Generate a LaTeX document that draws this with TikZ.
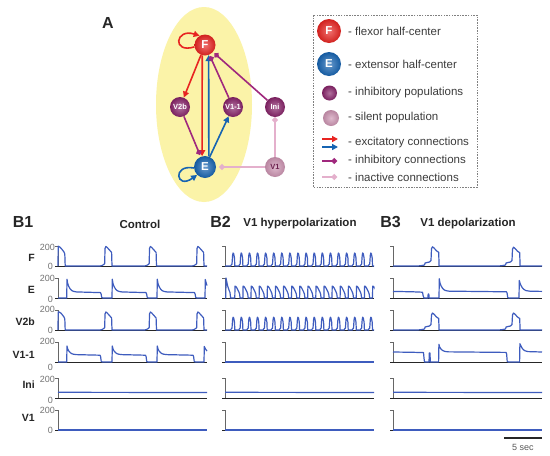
\documentclass[tikz,border=0pt]{standalone}
\usepackage{fontspec}
\setmainfont{Liberation Sans}
\usetikzlibrary{arrows.meta}
\definecolor{cred}{RGB}{232,36,33}
\definecolor{cblue}{RGB}{22,100,178}
\definecolor{cpurp}{RGB}{135,35,105}
\definecolor{csil}{RGB}{205,148,178}
\definecolor{linh}{RGB}{160,40,125}
\definecolor{linact}{RGB}{228,176,204}
\definecolor{cyel}{RGB}{251,243,168}
\definecolor{ctrace}{RGB}{62,92,190}
\definecolor{ctxt}{RGB}{60,60,60}
\definecolor{cv1t}{RGB}{110,35,80}
% burst shapes (local plot coordinates: x in pt, y value 0..200)
\newcommand\burstF[2]{-- ({#1-5},0) -- ({#1-3},5) -- ({#1-1.2},15) -- ({#1-0.3},25) -- ({#1},{#2-20}) -- ({#1+0.9},#2) -- ({#1+2.2},{#2-10}) -- ({#1+4.5},{#2-35}) -- ({#1+6.6},{#2-60}) -- ({#1+7},0)}
\newcommand\burstE[4]{-- ({#1},0) -- ({#1+0.3},#2) -- ({#1+1},{#3+0.67*(#2-#3)}) -- ({#1+2},{#3+0.45*(#2-#3)}) -- ({#1+3.5},{#3+0.25*(#2-#3)}) -- ({#1+5},{#3+0.13*(#2-#3)}) -- ({#1+7},{#3+0.06*(#2-#3)}) -- ({#1+10},{#3+0.02*(#2-#3)}) -- ({#4},{#3-4}) -- ({#4+0.6},{#3-18}) -- ({#4+1.2},8) -- ({#4+2.2},0)}
\newcommand\spikeF[2]{-- ({#1-2.6},0) -- ({#1-2},12) -- ({#1-1.3},18) -- ({#1-0.7},{#2-25}) -- ({#1-0.2},#2) -- ({#1+0.4},{#2-8}) -- ({#1+1.2},{#2-50}) -- ({#1+1.5},0)}
\newcommand\humpE[1]{-- ({#1},0) -- ({#1+0.2},118) -- ({#1+1},116) -- ({#1+2},102) -- ({#1+3},82) -- ({#1+4},62) -- ({#1+4.8},40) -- ({#1+5.3},0)}
\newcommand\burstFL[2]{-- ({#1-14},0) -- ({#1-10},4) -- ({#1-7},10) -- ({#1-6.4},30) -- ({#1-4},36) -- ({#1-2},40) -- ({#1-0.5},55) -- ({#1},{#2-20}) -- ({#1+1},#2) -- ({#1+2.5},{#2-12}) -- ({#1+5},{#2-40}) -- ({#1+7.2},{#2-55}) -- ({#1+7.6},0)}
\begin{document}
\begin{tikzpicture}[x=1pt,y=-1pt,
  trace/.style={ctrace,line width=1.2pt,line join=round},
  axisl/.style={draw=black!60,line width=0.9pt},
  basel/.style={draw=black!85,line width=0.9pt},
  shball/.style={shading=radial,inner color=#1!65!white,outer color=#1!90!black},
  bnode/.style={circle,inner sep=0pt,text=white,font=\bfseries\fontsize{11.5}{12}\selectfont},
  snode/.style={circle,inner sep=0pt,minimum size=20pt,text=white,font=\bfseries\fontsize{7.5}{8}\selectfont},
  exc/.style={line width=1.6pt,-{Triangle[length=6pt,width=6pt]}},
  inh/.style={line width=1.6pt,linh,-{Circle[length=5.5pt]}},
  ina/.style={line width=1.6pt,linact,-{Circle[length=5.5pt]}},
  legt/.style={anchor=west,inner sep=0pt,text=ctxt,font=\fontsize{11.5}{13}\selectfont},
  ttl/.style={inner sep=0pt,text=black!85,font=\bfseries\fontsize{11.5}{13}\selectfont},
  rowl/.style={anchor=east,inner sep=0pt,text=black!85,font=\bfseries\fontsize{10.5}{12}\selectfont},
  tickl/.style={anchor=east,inner sep=0pt,text=black!55,font=\fontsize{9}{10}\selectfont},
  panl/.style={inner sep=0pt,text=black!85,font=\bfseries\fontsize{16}{18}\selectfont}]
\useasboundingbox (0,0) rectangle (550,456);
\fill[white] (0,0) rectangle (550,456);
% ---------- Panel A ----------
\fill[cyel] (204,104.5) ellipse [x radius=48, y radius=97.5];
\node[panl] (labA) at (108,23) {A};
\node[bnode,shball=cred,minimum size=21pt] (F) at (205,45) {F};
\node[bnode,shball=cblue,minimum size=22pt] (E) at (205,167) {E};
\node[snode,shball=cpurp] (V2b) at (180,107) {V2b};
\node[snode,shball=cpurp] (V11) at (233,107) {V1-1};
\node[snode,shball=cpurp] (Ini) at (275,107) {Ini};
\node[snode,shball=csil,text=cv1t] (V1) at (275,167) {V1};
\draw[exc,cred] (F) -- (V2b);
\draw[exc,cred] (F.255) -- (E.105);
\draw[exc,cblue] (E.70) -- (F.290);
\draw[exc,cblue] (E) -- (V11);
\draw[inh,shorten >=1.5pt] (V11) -- (F);
\draw[inh,shorten >=2pt] (Ini) -- (F);
\draw[inh,shorten >=2pt] (V2b) -- (E);
\draw[ina] (V1) -- (Ini);
\draw[ina,shorten >=3pt] (V1) -- (E);
\draw[exc,cred] (F.190) .. controls (172,54) and (175,28) .. (F.120);
\draw[exc,cblue] (E.185) .. controls (172,164) and (176,190) .. (E.225);
% legend
\draw[black!50,dash pattern=on 1.5pt off 1.2pt,line width=0.7pt] (313,15) rectangle (477,187);
\node[bnode,shball=cred,minimum size=24pt] (lF) at (329,31) {F};
\node[bnode,shball=cblue,minimum size=24pt] (lE) at (329,64) {E};
\node[circle,inner sep=0pt,minimum size=15pt,shball=cpurp] (lI) at (329.5,93) {};
\node[circle,inner sep=0pt,minimum size=16pt,shball=csil] (lS) at (331,118) {};
\coordinate (la1) at (322,139); \coordinate (la2) at (338,139);
\coordinate (lb1) at (322,147); \coordinate (lb2) at (338,147);
\coordinate (lc1) at (322,161); \coordinate (lc2) at (337,161);
\coordinate (ld1) at (322,177); \coordinate (ld2) at (337,177);
\draw[exc,cred] (la1) -- (la2);
\draw[exc,cblue] (lb1) -- (lb2);
\draw[inh] (lc1) -- (lc2);
\draw[ina] (ld1) -- (ld2);
\node[legt] (t1) at (348,31) {- flexor half-center};
\node[legt] (t2) at (348,64) {- extensor half-center};
\node[legt] (t3) at (348,93) {- inhibitory populations};
\node[legt] (t4) at (348,118) {- silent population};
\node[legt] (t5) at (348,143) {- excitatory connections};
\node[legt] (t6) at (348,161) {- inhibitory connections};
\node[legt] (t7) at (348,177) {- inactive connections};
% ---------- Panel B ----------
\node[panl] (B1) at (23,222) {B1};
\node[panl] (B2) at (220.5,222) {B2};
\node[panl] (B3) at (390.5,222) {B3};
\node[ttl] (h1) at (140,224) {Control};
\node[ttl] (h2) at (300,224) {V1 hyperpolarization};
\node[ttl] (h3) at (468,224) {V1 depolarization};
\node[rowl] (rF) at (35,258) {F};
\node[rowl] (rE) at (35,290) {E};
\node[rowl] (rV2b) at (35,322) {V2b};
\node[rowl] (rV11) at (35,355) {V1-1};
\node[rowl] (rIni) at (35,385) {Ini};
\node[rowl] (rV1) at (35,418) {V1};
\node[tickl] (a1) at (55,247) {200}; \node[tickl] (b1) at (53,266.5) {0};
\node[tickl] (a2) at (55,278.5) {200}; \node[tickl] (b2) at (53,299) {0};
\node[tickl] (a3) at (55,309.5) {200}; \node[tickl] (b3) at (53,330.5) {0};
\node[tickl] (a4) at (55,341.5) {200}; \node[tickl] (b4) at (53,367.5) {0};
\node[tickl] (a5) at (55,379) {200}; \node[tickl] (b5) at (53,400) {0};
\node[tickl] (a6) at (55,410) {200}; \node[tickl] (b6) at (53,430.5) {0};
% axes
\foreach \px in {58,225,393}{
  \foreach \by in {266,298,330,362,398.5,430}{
    \begin{scope}[shift={(\px,\by)},y=0.1pt]
      \draw[axisl] (-3,200) -- (0,200) -- (0,0);
      \draw[basel] (-3,0) -- (149,0);
    \end{scope}
  }
}
% ---- B1 traces ----
\begin{scope}[shift={(58,266)},y=0.1pt]
\draw[trace] (0,0) -- (0.2,198) -- (1.5,192) -- (3,178) -- (4.5,160) -- (6,140) -- (6.8,120) -- (7.2,0) \burstF{47}{195} \burstF{91.5}{195} \burstF{139}{195} -- (149,0);
\end{scope}
\begin{scope}[shift={(58,298)},y=0.1pt]
\draw[trace] (0,0) \burstE{8.7}{188}{58}{42.5} \burstE{54}{188}{58}{88} \burstE{99}{188}{58}{136.5} -- (147,0) -- (147.3,185) -- (148.2,150) -- (149,125);
\end{scope}
\begin{scope}[shift={(58,330)},y=0.1pt]
\draw[trace] (0,0) -- (0.2,182) -- (1.5,178) -- (3,168) -- (4.5,150) -- (6,130) -- (6.8,110) -- (7.2,0) \burstF{47}{180} \burstF{91.5}{180} \burstF{139}{180} -- (149,0);
\end{scope}
\begin{scope}[shift={(58,362)},y=0.1pt]
\draw[trace] (0,0) \burstE{8.7}{160}{72}{42} \burstE{54}{160}{72}{87.5} \burstE{99}{160}{72}{135} -- (146,0) -- (146.3,155) -- (147.5,130) -- (149,110);
\end{scope}
\begin{scope}[shift={(58,398.5)},y=0.1pt]
\draw[trace] (0,62) -- (149,60);
\end{scope}
\begin{scope}[shift={(58,430)},y=0.1pt]
\draw[trace] (0,0) -- (149,0);
\end{scope}
% ---- B2 traces ----
\begin{scope}[shift={(225,266)},y=0.1pt]
\draw[trace] (0,0) \foreach \k in {0,...,17}{ \spikeF{8.3+8.1*\k}{130} } -- (149,0);
\end{scope}
\begin{scope}[shift={(225,298)},y=0.1pt]
\clip (-0.5,-20) rectangle (149.5,230);
\draw[trace] (0,0) -- (0.8,0) -- (1,200) -- (1.8,160) -- (2.8,115) -- (4,80) -- (5,55) -- (5.6,0) \foreach \k in {0,...,17}{ \humpE{9.8+8.1*\k} };
\end{scope}
\begin{scope}[shift={(225,330)},y=0.1pt]
\draw[trace] (0,0) \foreach \k in {0,...,17}{ \spikeF{8.3+8.1*\k}{128} } -- (149,0);
\end{scope}
\begin{scope}[shift={(225,362)},y=0.1pt]
\draw[trace] (0,0) -- (149,0);
\end{scope}
\begin{scope}[shift={(225,398.5)},y=0.1pt]
\draw[trace] (0,62) -- (149,60);
\end{scope}
\begin{scope}[shift={(225,430)},y=0.1pt]
\draw[trace] (0,0) -- (149,0);
\end{scope}
% ---- B3 traces ----
\begin{scope}[shift={(393,266)},y=0.1pt]
\draw[trace] (0,0) \burstFL{38.5}{192} \burstFL{119.5}{188} -- (149,0);
\end{scope}
\begin{scope}[shift={(393,298)},y=0.1pt]
\draw[trace] (0,66) -- (20,62) -- (29.5,58) -- (30.2,20) -- (31,0) -- (34.8,0) -- (35.2,40) -- (35.8,40) -- (36.2,0) \burstE{46}{192}{66}{113.5} -- (126,0) -- (126.3,175) -- (127,150) -- (128,125) -- (129.5,100) -- (131,85) -- (133,74) -- (137,68) -- (149,66);
\end{scope}
\begin{scope}[shift={(393,330)},y=0.1pt]
\draw[trace] (0,0) \burstFL{38.5}{170} \burstFL{119.5}{170} -- (149,0);
\end{scope}
\begin{scope}[shift={(393,362)},y=0.1pt]
\draw[trace] (0,100) -- (20,97) -- (30.5,94) -- (31,40) -- (31.5,0) -- (36,0) -- (36.3,90) -- (37,90) -- (37.3,0) \burstE{45.6}{177}{100}{113} -- (126.6,0) -- (126.9,183) -- (128,160) -- (129,140) -- (130.5,122) -- (132,112) -- (135,104) -- (149,100);
\end{scope}
\begin{scope}[shift={(393,398.5)},y=0.1pt]
\draw[trace] (0,62) -- (149,60);
\end{scope}
\begin{scope}[shift={(393,430)},y=0.1pt]
\draw[trace] (0,0) -- (149,0);
\end{scope}
% scale bar
\coordinate (sb1) at (504,438); \coordinate (sb2) at (542,438);
\draw[line width=1.2pt,black!85] (sb1) -- (sb2);
\node[inner sep=0pt,text=black!65,font=\fontsize{9}{10}\selectfont] (sbl) at (523,447) {5 sec};
\end{tikzpicture}
\end{document}
